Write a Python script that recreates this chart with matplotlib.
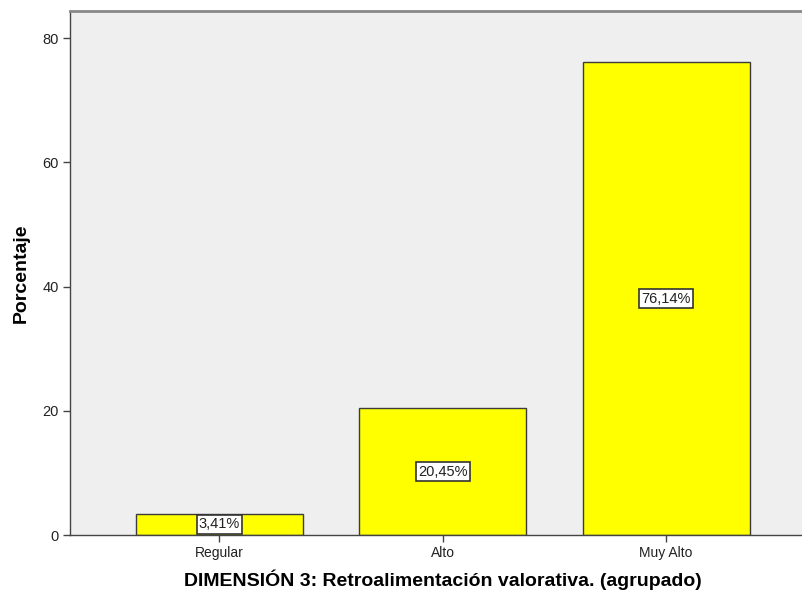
import matplotlib
matplotlib.use('Agg')
import matplotlib.pyplot as plt

plt.rcParams['font.family'] = ['Liberation Sans', 'DejaVu Sans']

categories = ['Regular', 'Alto', 'Muy Alto']
percentages = [3.41, 20.45, 76.14]
value_labels = ['3,41%', '20,45%', '76,14%']
yticks = [0, 20, 40, 60, 80]

fig = plt.figure(figsize=(8.02, 5.94), dpi=100)
ax = fig.add_axes([0.0873, 0.0993, 0.9296, 0.882])
ax.set_facecolor('#efefef')

x = range(len(categories))
bars = ax.bar(x, percentages, width=0.747, color='#ffff00',
              edgecolor='#3c3c3c', linewidth=1.0)

for xi, val, lab in zip(x, percentages, value_labels):
    ax.text(xi, val / 2.0, lab, ha='center', va='center', fontsize=10.5,
            color='#222222',
            bbox=dict(boxstyle='square,pad=0.15', facecolor='white',
                      edgecolor='#333333', linewidth=1.2))

ax.set_xlim(-0.669, 2.669)
ax.set_ylim(0, 84.35)
ax.set_xticks(list(x))
ax.set_xticklabels(categories, fontsize=10)
ax.set_yticks(yticks)
ax.set_yticklabels([str(t) for t in yticks], fontsize=10.5)
ax.tick_params(direction='out', length=5, width=1, color='#444444',
               pad=3, labelcolor='#222222')

for s in ['left', 'bottom']:
    ax.spines[s].set_color('#444444')
    ax.spines[s].set_linewidth(1.0)
ax.spines['top'].set_color('#888888')
ax.spines['top'].set_linewidth(2.0)
ax.spines['right'].set_visible(False)

ax.set_xlabel('DIMENSIÓN 3: Retroalimentación valorativa. (agrupado)',
              fontsize=14, fontweight='bold', labelpad=7)
ax.set_ylabel('Porcentaje', fontsize=14, fontweight='bold', labelpad=9)

fig.savefig('out.png', dpi=100)
